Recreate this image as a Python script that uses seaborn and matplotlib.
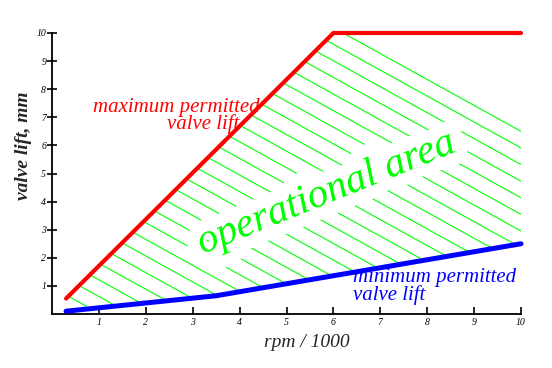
import numpy as np
import matplotlib
matplotlib.use("Agg")
import matplotlib.pyplot as plt
import matplotlib.patheffects as pe
import seaborn as sns

# valve lift limits (rpm / 1000 -> mm)
max_rpm = [0.3, 6.0, 10.0]
max_lift = [0.55, 10.0, 10.0]
min_rpm = [0.3, 3.5, 10.0]
min_lift = [0.1, 0.65, 2.5]
x_ticks = [1, 2, 3, 4, 5, 6, 7, 8, 9, 10]
y_ticks = [1, 2, 3, 4, 5, 6, 7, 8, 9, 10]

RED, BLUE, GREEN = "#ff0000", "#0000ff", "#00ff00"
SERIF = ["Liberation Serif", "DejaVu Serif"]

sns.set_theme(style="ticks")
plt.rcParams["font.family"] = SERIF

fig = plt.figure(figsize=(5.52, 3.68), dpi=100)
ax = fig.add_axes([52 / 552, 54 / 368, 469 / 552, 281 / 368])
ax.set_xlim(0, 10)
ax.set_ylim(0, 10)

# operational area between both limits, hatched with thin green lines
xs = np.union1d(max_rpm, min_rpm)
hi = np.interp(xs, max_rpm, max_lift)
lo = np.interp(xs, min_rpm, min_lift)
area = ax.fill_between(xs, lo, hi, facecolor="none", edgecolor="none")
clip = area.get_paths()[0]

slope, step, c = -0.923, 0.591, 15.73
hx = np.array([0.0, 10.0])
while c > -10:
    (ln,) = ax.plot(hx, c + slope * hx, color=GREEN, lw=0.8, zorder=1)
    ln.set_clip_path(clip, ax.transData)
    c -= step

sns.lineplot(x=max_rpm, y=max_lift, color=RED, lw=3, ax=ax, zorder=4, clip_on=False)
sns.lineplot(x=min_rpm, y=min_lift, color=BLUE, lw=3.6, ax=ax, zorder=4, clip_on=False)

ax.text(5.93, 3.97, "operational area", color=GREEN, fontsize=29.5, style="italic",
        rotation=22, rotation_mode="anchor", ha="center", va="baseline", zorder=3,
        path_effects=[pe.withStroke(linewidth=18, foreground="white")])

# red label: second line sits a little in from the right edge
ax.text(4.43, 7.05, "maximum permitted\nvalve lift    ", color=RED, fontsize=15,
        style="italic", ha="right", va="center", multialignment="right",
        linespacing=0.85, zorder=3)
ax.text(6.42, 0.99, "minimum permitted\nvalve lift", color=BLUE, fontsize=15,
        style="italic", ha="left", va="center", multialignment="left",
        linespacing=0.85, zorder=3)

ax.set_xticks(x_ticks)
ax.set_yticks(y_ticks)
ax.set_xticklabels([str(t) for t in x_ticks], fontsize=7, style="italic")
ax.set_yticklabels([str(t) for t in y_ticks], fontsize=7, style="italic")
ax.tick_params(axis="x", direction="in", length=5, width=1.2, pad=3, colors="black")
ax.tick_params(axis="y", direction="inout", length=6.5, width=1.2, pad=1, colors="black")

ax.set_xlabel("rpm / 1000", fontsize=14, style="italic", va="center")
ax.xaxis.set_label_coords(0.544, -0.10)
ax.set_ylabel("valve lift, mm", fontsize=14, style="italic", weight="bold", va="center")
ax.yaxis.set_label_coords(-0.06, 0.60)

sns.despine(ax=ax)
for s in ["left", "bottom"]:
    ax.spines[s].set_color("black")
    ax.spines[s].set_linewidth(1.3)

fig.savefig("out.png", dpi=100, facecolor="white")
